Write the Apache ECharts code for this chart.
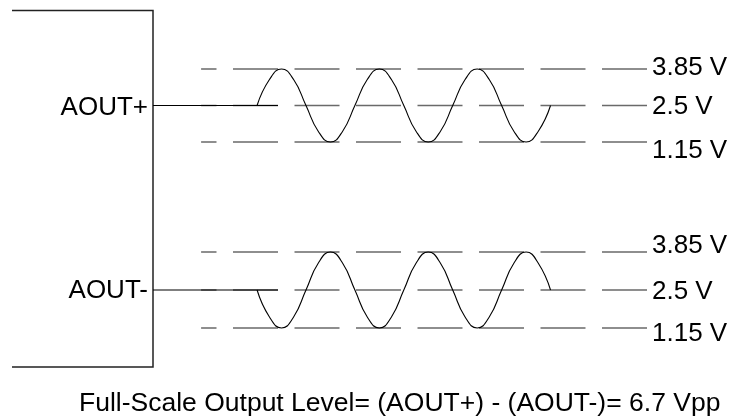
<!DOCTYPE html>
<html>
<head>
<meta charset="utf-8">
<style>
  html, body { margin: 0; padding: 0; background: #fff; }
  #main { width: 731px; height: 417px; }
</style>
<script src="https://cdn.jsdelivr.net/npm/echarts@6/dist/echarts.min.js"></script>
</head>
<body>
<div id="main"></div>
<script>
// Fase en grados, tensiones en voltios
const phase = [0, 45, 90, 135, 180, 225, 270, 315, 360, 405, 450, 495, 540,
  585, 630, 675, 720, 765, 810, 855, 900, 945, 990, 1035, 1080];
const aoutPlus = [2.5, 3.45, 3.85, 3.45, 2.5, 1.55, 1.15, 1.55,
  2.5, 3.45, 3.85, 3.45, 2.5, 1.55, 1.15, 1.55,
  2.5, 3.45, 3.85, 3.45, 2.5, 1.55, 1.15, 1.55, 2.5];
const aoutMinus = [2.5, 1.55, 1.15, 1.55, 2.5, 3.45, 3.85, 3.45,
  2.5, 1.55, 1.15, 1.55, 2.5, 3.45, 3.85, 3.45,
  2.5, 1.55, 1.15, 1.55, 2.5, 3.45, 3.85, 3.45, 2.5];
const levels = [1.15, 2.5, 3.85];
const leadPhase = [-383, 77];    // linea de salida del chip
const refPhase = [1435, -206];   // lineas de referencia (de derecha a izquierda)
const outputs = ["AOUT+", "AOUT-"];
const footer = "Full-Scale Output Level= (AOUT+) - (AOUT-)= 6.7 Vpp";

const FONT = "Liberation Sans, Arial, sans-serif";

const initEChart = () => {
  const myChart = echarts.init(document.getElementById("main"));
  const waves = [aoutPlus, aoutMinus];

  // desplazamiento vertical de cada etiqueta de tension
  const labelStyles = [
    { 3.85: "u2", 2.5: "d1", 1.15: "d9" },
    { 3.85: "u6", 2.5: "d1", 1.15: "d6" },
  ];
  const rich = {
    u2: { padding: [0, 0, 3, 0] },
    u6: { padding: [0, 0, 12, 0] },
    d1: { padding: [3, 0, 0, 0] },
    d6: { padding: [11, 0, 0, 0] },
    d9: { padding: [18, 0, 0, 0] },
  };
  Object.values(rich).forEach((r) => {
    r.fontSize = 26;
    r.fontFamily = FONT;
    r.color = "#000";
  });

  const series = [];
  waves.forEach((wave, g) => {
    levels.forEach((lv) => {
      series.push({
        name: outputs[g] + " " + lv + " V",
        type: "line",
        xAxisIndex: g,
        yAxisIndex: g,
        showSymbol: false,
        clip: false,
        silent: true,
        lineStyle: { color: "#6a6a6a", width: 1.3, type: [45, 16.5] },
        data: refPhase.map((p) => [p, lv]),
        z: 2,
      });
    });
    series.push({
      name: outputs[g] + " lead",
      type: "line",
      xAxisIndex: g,
      yAxisIndex: g,
      showSymbol: false,
      clip: false,
      lineStyle: { color: "#000", width: 1.2 },
      data: leadPhase.map((p) => [p, levels[1]]),
      z: 3,
    });
    series.push({
      name: outputs[g],
      type: "line",
      xAxisIndex: g,
      yAxisIndex: g,
      showSymbol: false,
      clip: false,
      smooth: 0.5,
      lineStyle: { color: "#000", width: 1.1 },
      data: phase.map((p, i) => [p, wave[i]]),
      z: 4,
    });
  });

  const option = {
    animation: false,
    backgroundColor: "#fff",
    grid: [
      { left: 153, width: 494, top: 69, height: 73 },
      { left: 153, width: 494, top: 252, height: 76 },
    ],
    xAxis: [0, 1].map((g) => ({
      type: "value",
      gridIndex: g,
      min: leadPhase[0],
      max: refPhase[0],
      show: false,
    })),
    yAxis: [0, 1].map((g) => ({
      type: "value",
      gridIndex: g,
      position: "right",
      min: levels[0],
      max: levels[2],
      axisLine: { show: false },
      axisTick: { show: false },
      splitLine: { show: false },
      axisLabel: {
        margin: 5,
        customValues: levels,
        fontSize: 26,
        fontFamily: FONT,
        color: "#000",
        formatter: (v) => "{" + labelStyles[g][v] + "|" + v + " V}",
        rich: rich,
      },
    })),
    graphic: [
      {
        type: "polyline",
        shape: { points: [[12, 10.5], [153, 10.5], [153, 367], [12, 367]] },
        style: { stroke: "#222", lineWidth: 1.5, fill: null },
      },
      {
        type: "text",
        x: 148, y: 108,
        style: { text: outputs[0], fill: "#000", font: "26px " + FONT, textAlign: "right", textVerticalAlign: "middle" },
      },
      {
        type: "text",
        x: 148, y: 291,
        style: { text: outputs[1], fill: "#000", font: "26px " + FONT, textAlign: "right", textVerticalAlign: "middle" },
      },
      {
        type: "text",
        x: 79, y: 404,
        style: { text: footer, fill: "#000", font: "26.5px " + FONT, textAlign: "left", textVerticalAlign: "middle" },
      },
    ],
    series: series,
  };

  myChart.setOption(option);
  return myChart;
};

let chartInstance = initEChart();
</script>
</body>
</html>
